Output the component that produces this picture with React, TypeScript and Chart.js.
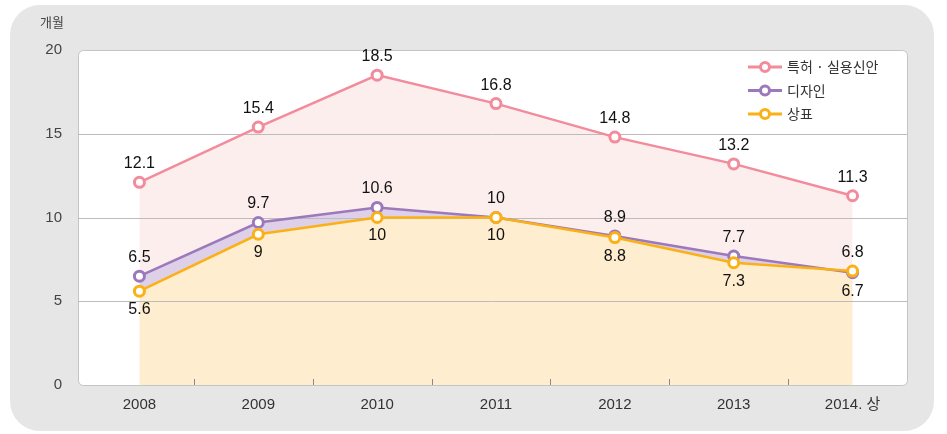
import React, { useEffect, useRef } from 'react';
import { Chart, registerables } from 'chart.js';

Chart.register(...registerables);

const categories = ['2008', '2009', '2010', '2011', '2012', '2013', '2014. 상'];
const seriesNames = ['특허 · 실용신안', '디자인', '상표'];
const patentValues = [12.1, 15.4, 18.5, 16.8, 14.8, 13.2, 11.3];
const designValues = [6.5, 9.7, 10.6, 10, 8.9, 7.7, 6.7];
const trademarkValues = [5.6, 9, 10, 10, 8.8, 7.3, 6.8];
const yTickValues = [0, 5, 10, 15, 20];
const unitLabel = '개월';

const lineColors = ['#f28b9b', '#9b79bb', '#fbb116'];
const fillColors = ['#fdeeee', '#ddd0e8', '#feedcf'];
// label placement per series/point: 1 = above, -1 = below
const labelSides = [
  [1, 1, 1, 1, 1, 1, 1],
  [1, 1, 1, 1, 1, 1, -1],
  [-1, -1, -1, -1, -1, -1, 1],
];

const FONT = '"Liberation Sans", Arial, "Noto Sans CJK KR", sans-serif';
const KFONT = '"Noto Sans CJK KR", "Liberation Sans", sans-serif';

function rr(ctx: CanvasRenderingContext2D, x: number, y: number, w: number, h: number, r: number) {
  ctx.beginPath();
  ctx.moveTo(x + r, y);
  ctx.lineTo(x + w - r, y);
  ctx.arcTo(x + w, y, x + w, y + r, r);
  ctx.lineTo(x + w, y + h - r);
  ctx.arcTo(x + w, y + h, x + w - r, y + h, r);
  ctx.lineTo(x + r, y + h);
  ctx.arcTo(x, y + h, x, y + h - r, r);
  ctx.lineTo(x, y + r);
  ctx.arcTo(x, y, x + r, y, r);
  ctx.closePath();
}

const decor = {
  id: 'decor',
  beforeDraw(chart: any) {
    const { ctx, chartArea: a } = chart;
    ctx.save();
    ctx.fillStyle = '#e6e6e6';
    rr(ctx, 10, 5, chart.width - 23, chart.height - 8, 30);
    ctx.fill();
    ctx.fillStyle = '#ffffff';
    const bl = a.left - 2;
    const br = a.right - 5;
    rr(ctx, bl + 0.5, a.top + 0.5, br - bl, a.bottom - a.top, 5);
    ctx.fill();
    ctx.strokeStyle = '#c4c4c4';
    ctx.lineWidth = 1;
    ctx.stroke();
    ctx.fillStyle = '#444';
    ctx.font = `13px ${KFONT}`;
    ctx.textAlign = 'center';
    ctx.textBaseline = 'middle';
    ctx.fillText(unitLabel, 52, 22);
    ctx.restore();
  },
  beforeDatasetsDraw(chart: any) {
    const { ctx, chartArea: a, scales } = chart;
    ctx.save();
    ctx.strokeStyle = '#bcbcbc';
    ctx.lineWidth = 1;
    yTickValues.forEach((v) => {
      if (v === yTickValues[0] || v === yTickValues[yTickValues.length - 1]) return;
      const y = Math.round(scales.y.getPixelForValue(v)) + 0.5;
      ctx.beginPath();
      ctx.moveTo(a.left - 2, y);
      ctx.lineTo(a.right - 5, y);
      ctx.stroke();
    });
    ctx.strokeStyle = '#8a8a8a';
    for (let i = 0; i < categories.length - 1; i++) {
      const x = Math.round((scales.x.getPixelForValue(i) + scales.x.getPixelForValue(i + 1)) / 2) - 4.5;
      ctx.beginPath();
      ctx.moveTo(x, a.bottom);
      ctx.lineTo(x, a.bottom - 6);
      ctx.stroke();
    }
    ctx.restore();
  },
  afterDatasetsDraw(chart: any) {
    const { ctx, chartArea: a } = chart;
    ctx.save();
    ctx.font = `16px ${FONT}`;
    ctx.fillStyle = '#111';
    ctx.textAlign = 'center';
    ctx.textBaseline = 'middle';
    chart.data.datasets.forEach((ds: any, di: number) => {
      const meta = chart.getDatasetMeta(di);
      meta.data.forEach((pt: any, i: number) => {
        const side = labelSides[di][i];
        ctx.fillText(String(ds.data[i]), pt.x, pt.y - side * 18.5);
      });
    });
    // legend
    const lx = a.right - 164;
    seriesNames.forEach((name, i) => {
      const y = a.top + 17 + i * 23.5;
      ctx.strokeStyle = lineColors[i];
      ctx.lineWidth = 3;
      ctx.beginPath();
      ctx.moveTo(lx, y);
      ctx.lineTo(lx + 34, y);
      ctx.stroke();
      ctx.beginPath();
      ctx.arc(lx + 17, y, 4.5, 0, Math.PI * 2);
      ctx.fillStyle = '#fff';
      ctx.fill();
      ctx.stroke();
      ctx.fillStyle = '#333';
      ctx.font = `14px ${KFONT}`;
      ctx.textAlign = 'left';
      ctx.fillText(name, lx + 39, y);
    });
    ctx.restore();
  },
};

export default function App() {
  const ref = useRef<HTMLCanvasElement>(null);
  useEffect(() => {
    if (!ref.current) return;
    const mk = (label: string, data: number[], i: number, fill: any, order: number) => ({
      label,
      data,
      borderColor: lineColors[i],
      backgroundColor: fillColors[i],
      borderWidth: 2.5,
      pointRadius: 5,
      pointBorderWidth: 3,
      pointBackgroundColor: '#ffffff',
      pointBorderColor: lineColors[i],
      fill,
      order,
      tension: 0,
    });
    const chart = new Chart(ref.current, {
      type: 'line',
      data: {
        labels: categories,
        datasets: [
          mk(seriesNames[0], patentValues, 0, 'origin', 3),
          mk(seriesNames[1], designValues, 1, 2, 2),
          mk(seriesNames[2], trademarkValues, 2, 'origin', 1),
        ],
      },
      options: {
        responsive: false,
        maintainAspectRatio: false,
        animation: false,
        layout: { padding: { top: 50, right: 35, bottom: 0, left: 0 } },
        plugins: {
          legend: { display: false },
          tooltip: { enabled: false },
          filler: { drawTime: 'beforeDatasetsDraw' },
        },
        scales: {
          x: {
            offset: true,
            grid: { display: false, drawTicks: false },
            border: { display: false },
            ticks: { color: '#333', font: { size: 15, family: FONT }, padding: 11, maxRotation: 0 },
            afterFit: (s: any) => { s.height = 49; },
          },
          y: {
            min: yTickValues[0],
            max: yTickValues[yTickValues.length - 1],
            grid: { display: false, drawTicks: false },
            border: { display: false },
            afterBuildTicks: (s: any) => { s.ticks = yTickValues.map((v) => ({ value: v })); },
            ticks: { color: '#444', font: { size: 15, family: FONT }, padding: 18 },
            afterFit: (s: any) => { s.width = 80; },
          },
        },
      } as any,
      plugins: [decor],
    });
    return () => chart.destroy();
  }, []);
  return (
    <div style={{ position: 'absolute', left: 0, top: 0, width: 947, height: 434 }}>
      <canvas ref={ref} width={947} height={434} />
    </div>
  );
}
